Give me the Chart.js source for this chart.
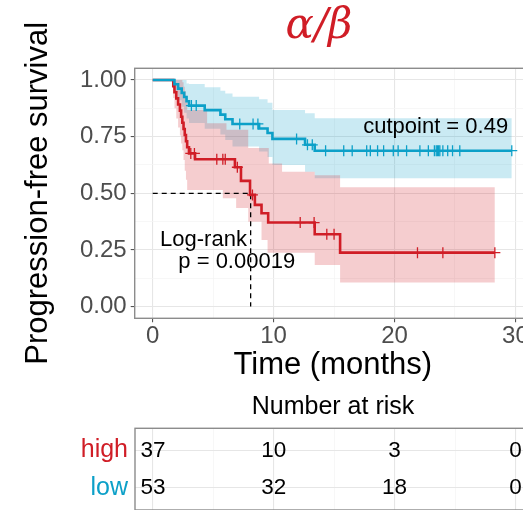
<!DOCTYPE html>
<html>
<head>
<meta charset="utf-8">
<script src="https://cdn.jsdelivr.net/npm/chart.js@4"></script>
<style>
html, body { margin: 0; padding: 0; background: #fff; overflow: hidden; }
#wrap { position: relative; width: 523px; height: 510px; overflow: hidden; }
#km { position: absolute; left: 0; top: 0; }
#risk { position: absolute; left: 0; top: 390px; }
</style>
</head>
<body>
<div id="wrap">
  <canvas id="km" width="540" height="390"></canvas>
  <canvas id="risk" width="540" height="120"></canvas>
</div>
<script>
var RED = '#d01d26';
var BLUE = '#0ca0c8';
var RED_FILL = 'rgba(208,29,38,0.22)';
var BLUE_FILL = 'rgba(12,160,200,0.22)';
var FONT = "'Liberation Sans', Arial, sans-serif";

// high group (red): step start times and survival
var highTime   = [0, 1.7, 1.8, 1.95, 2.1, 2.25, 2.35, 2.45, 2.55, 2.65, 2.75, 2.85, 3.0, 3.5, 6.8, 7.3, 8.05, 8.45, 9.0, 9.55, 13.4, 15.5, 28.3];
var highSurv   = [1, 0.973, 0.946, 0.919, 0.892, 0.865, 0.838, 0.811, 0.784, 0.757, 0.730, 0.703, 0.676, 0.650, 0.615, 0.555, 0.493, 0.449, 0.412, 0.371, 0.319, 0.238, 0.238];
var highCensor = [3.15, 3.45, 5.3, 5.8, 6.0, 7.0, 8.25, 12.2, 13.35, 14.4, 15.0, 21.9, 24.0, 28.3];
// high group confidence band
var highBandTime = [0, 1.7, 1.8, 1.95, 2.1, 2.25, 2.35, 2.45, 2.55, 2.65, 2.75, 2.85, 4.5, 5.8, 6.1, 6.9, 7.9, 9.0, 9.5, 9.6, 10.7, 13.4, 15.5, 28.3];
var highUpper    = [1, 1, 1, 1, 1, 1, 1, 0.99, 0.97, 0.95, 0.93, 0.868, 0.809, 0.809, 0.78, 0.78, 0.70, 0.70, 0.70, 0.632, 0.595, 0.58, 0.527, 0.527];
var highLower    = [1, 0.92, 0.875, 0.83, 0.79, 0.755, 0.72, 0.69, 0.647, 0.6, 0.56, 0.515, 0.515, 0.478, 0.478, 0.435, 0.375, 0.294, 0.238, 0.238, 0.238, 0.184, 0.106, 0.106];

// low group (blue)
var lowTime   = [0, 1.8, 2.1, 2.4, 2.6, 2.8, 3.0, 4.3, 5.6, 6.0, 6.6, 8.8, 9.5, 9.9, 12.6, 13.4, 29.7];
var lowSurv   = [1, 0.981, 0.962, 0.943, 0.925, 0.906, 0.887, 0.867, 0.847, 0.827, 0.806, 0.786, 0.766, 0.740, 0.714, 0.688, 0.688];
var lowUpper  = [1, 1, 1, 1, 1, 0.985, 0.982, 0.968, 0.952, 0.94, 0.926, 0.915, 0.9, 0.868, 0.853, 0.831, 0.831];
var lowLower  = [1, 0.945, 0.911, 0.882, 0.856, 0.83, 0.81, 0.785, 0.76, 0.735, 0.706, 0.685, 0.66, 0.625, 0.595, 0.566, 0.566];
var lowCensor = [3.2, 3.6, 7.2, 8.3, 8.7, 11.9, 12.8, 13.2, 14.3, 15.8, 16.5, 17.7, 18.0, 18.6, 19.1, 19.9, 20.3, 21.0, 22.1, 22.8, 23.3, 23.45, 23.55, 23.65, 23.75, 24.0, 24.4, 24.8, 25.4, 29.7];

var medianTime = 8.1;

var riskTimes = [0, 10, 20, 30];
var riskHigh = [37, 10, 3, 0];
var riskLow = [53, 32, 18, 0];

var xTicks = [0, 10, 20, 30];
var yTicks = [0, 0.25, 0.5, 0.75, 1];
var yLabels = ['0.00', '0.25', '0.50', '0.75', '1.00'];

function pts(times, vals) {
    return times.map(function(t, i) { return {x: t, y: vals[i]}; });
}

function survAt(times, surv, t) {
    var s = surv[0];
    for (var i = 0; i < times.length; i++) {
        if (times[i] <= t) s = surv[i];
    }
    return s;
}

function censorPts(times, surv, cens) {
    return cens.map(function(t) { return {x: t, y: survAt(times, surv, t)}; });
}

// major ticks plus a minor tick halfway between each pair
function withMinor(major) {
    var out = [];
    for (var i = 0; i < major.length; i++) {
        out.push({value: major[i]});
        if (i < major.length - 1) out.push({value: (major[i] + major[i + 1]) / 2, minor: true});
    }
    return out;
}

function gridColor(c) { return c.tick && c.tick.minor ? '#f3f3f3' : '#e6e6e6'; }
function gridWidth(c) { return c.tick && c.tick.minor ? 0.7 : 1.1; }
function tickMarkColor(c) { return c.tick && c.tick.minor ? 'rgba(0,0,0,0)' : '#555555'; }

var kmDecor = {
    id: 'kmDecor',
    afterDatasetsDraw: function(chart) {
        var ctx = chart.ctx, x = chart.scales.x, y = chart.scales.y;
        ctx.save();
        ctx.fillStyle = '#000';
        ctx.font = '22px ' + FONT;
        ctx.textBaseline = 'middle';
        ctx.textAlign = 'right';
        ctx.fillText('cutpoint = 0.49', x.getPixelForValue(29.4), y.getPixelForValue(0.794));
        ctx.textAlign = 'center';
        ctx.fillText('Log-rank', x.getPixelForValue(4.2), y.getPixelForValue(0.294));
        ctx.fillText('p = 0.00019', x.getPixelForValue(6.95), y.getPixelForValue(0.199));
        ctx.restore();
    },
    afterDraw: function(chart) {
        var ctx = chart.ctx, a = chart.chartArea;
        ctx.save();
        ctx.strokeStyle = '#8c8c8c';
        ctx.lineWidth = 1.4;
        ctx.strokeRect(a.left, a.top, a.right - a.left, a.bottom - a.top);
        ctx.fillStyle = RED;
        ctx.font = "italic 42px 'DejaVu Serif', serif";
        ctx.textAlign = 'center';
        ctx.textBaseline = 'alphabetic';
        ctx.fillText('\u03b1/\u03b2', 319, 38);
        ctx.restore();
    }
};

var kmChart = new Chart(document.getElementById('km').getContext('2d'), {
    type: 'line',
    data: {
        datasets: [
            {data: pts(lowTime, lowSurv), borderColor: BLUE, borderWidth: 2.6, stepped: true, pointRadius: 0, fill: false, order: 0},
            {data: pts(highTime, highSurv), borderColor: RED, borderWidth: 2.6, stepped: true, pointRadius: 0, fill: false, order: 1},
            {data: censorPts(lowTime, lowSurv, lowCensor), showLine: false, pointStyle: 'cross', pointRadius: 5.5,
             pointBorderWidth: 1.3, borderColor: BLUE, backgroundColor: BLUE, order: 0},
            {data: censorPts(highTime, highSurv, highCensor), showLine: false, pointStyle: 'cross', pointRadius: 5.5,
             pointBorderWidth: 1.3, borderColor: RED, backgroundColor: RED, order: 1},
            {data: [{x: 0, y: 0.5}, {x: medianTime, y: 0.5}, {x: medianTime, y: 0}], borderColor: '#000',
             borderWidth: 1.3, borderDash: [5, 4], pointRadius: 0, fill: false, order: 2},
            {data: pts(lowTime, lowUpper), stepped: true, borderWidth: 0, pointRadius: 0, fill: '+1', backgroundColor: BLUE_FILL, order: 6},
            {data: pts(lowTime, lowLower), stepped: true, borderWidth: 0, pointRadius: 0, fill: false, order: 6},
            {data: pts(highBandTime, highUpper), stepped: true, borderWidth: 0, pointRadius: 0, fill: '+1', backgroundColor: RED_FILL, order: 5},
            {data: pts(highBandTime, highLower), stepped: true, borderWidth: 0, pointRadius: 0, fill: false, order: 5}
        ]
    },
    options: {
        responsive: false,
        animation: false,
        devicePixelRatio: 1,
        layout: {padding: {top: 68.3, right: 9, left: 0, bottom: 0}},
        plugins: {legend: {display: false}, tooltip: {enabled: false}, title: {display: false}},
        scales: {
            x: {
                type: 'linear', min: -1.49, max: 31.29,
                afterBuildTicks: function(s) { s.ticks = withMinor(xTicks); },
                afterFit: function(s) { s.height = 390 - 318.3; s.paddingLeft = 0; s.paddingRight = 0; },
                ticks: {
                    autoSkip: false, maxRotation: 0, padding: 0, color: '#4d4d4d',
                    font: {family: FONT, size: 24},
                    callback: function(v, i, t) { return t[i].minor ? '' : String(v); }
                },
                grid: {color: gridColor, lineWidth: gridWidth, tickColor: tickMarkColor, tickLength: 4},
                border: {display: false},
                title: {display: true, text: 'Time (months)', color: '#000',
                        font: {family: FONT, size: 31}, padding: {top: 0, bottom: 6.4}}
            },
            y: {
                type: 'linear', min: -0.0516, max: 1.0516,
                afterBuildTicks: function(s) { s.ticks = withMinor(yTicks); },
                afterFit: function(s) { s.width = 134.7; s.paddingTop = 0; s.paddingBottom = 0; },
                ticks: {
                    autoSkip: false, padding: 4, color: '#4d4d4d',
                    font: {family: FONT, size: 24},
                    callback: function(v, i, t) { return t[i].minor ? '' : yLabels[yTicks.indexOf(v)]; }
                },
                grid: {color: gridColor, lineWidth: gridWidth, tickColor: tickMarkColor, tickLength: 4},
                border: {display: false},
                title: {display: true, text: 'Progression-free survival', color: '#000',
                        font: {family: FONT, size: 31}, padding: {top: 19.4, bottom: 0}}
            }
        }
    },
    plugins: [kmDecor]
});

var riskDecor = {
    id: 'riskDecor',
    afterDatasetsDraw: function(chart) {
        var ctx = chart.ctx, a = chart.chartArea;
        ctx.save();
        ctx.font = '22.5px ' + FONT;
        ctx.fillStyle = '#000';
        ctx.textAlign = 'center';
        ctx.textBaseline = 'middle';
        chart.data.datasets.forEach(function(ds, di) {
            chart.getDatasetMeta(di).data.forEach(function(p, i) {
                ctx.fillText(String(ds.counts[i]), p.x, p.y);
            });
        });
        ctx.strokeStyle = '#8c8c8c';
        ctx.lineWidth = 1.4;
        ctx.strokeRect(a.left, a.top, a.right - a.left, a.bottom - a.top);
        ctx.font = '25px ' + FONT;
        ctx.fillText('Number at risk', (a.left + a.right) / 2, 16.7);
        ctx.restore();
    }
};

var riskChart = new Chart(document.getElementById('risk').getContext('2d'), {
    type: 'scatter',
    data: {
        datasets: [
            {data: riskTimes.map(function(t) { return {x: t, y: 1}; }), counts: riskHigh, pointRadius: 0},
            {data: riskTimes.map(function(t) { return {x: t, y: 0}; }), counts: riskLow, pointRadius: 0}
        ]
    },
    options: {
        responsive: false,
        animation: false,
        devicePixelRatio: 1,
        layout: {autoPadding: false, padding: {top: 38.3, right: 9, left: 0, bottom: 0}},
        plugins: {legend: {display: false}, tooltip: {enabled: false}},
        scales: {
            x: {
                type: 'linear', min: -1.49, max: 31.29,
                afterBuildTicks: function(s) { s.ticks = withMinor(xTicks); },
                afterFit: function(s) { s.height = 0; s.paddingLeft = 0; s.paddingRight = 0; },
                ticks: {display: false},
                grid: {color: gridColor, lineWidth: gridWidth, drawTicks: false},
                border: {display: false}
            },
            y: {
                type: 'linear', min: -0.6, max: 1.6,
                afterBuildTicks: function(s) { s.ticks = [{value: 0}, {value: 1}]; },
                afterFit: function(s) { s.width = 135; s.paddingTop = 0; s.paddingBottom = 0; },
                ticks: {
                    padding: 7,
                    font: {family: FONT, size: 25},
                    color: function(c) { return c.tick && c.tick.value === 1 ? RED : BLUE; },
                    callback: function(v) { return v === 1 ? 'high' : 'low'; }
                },
                grid: {color: '#e6e6e6', lineWidth: 1.1, drawTicks: false},
                border: {display: false}
            }
        }
    },
    plugins: [riskDecor]
});
</script>
</body>
</html>
